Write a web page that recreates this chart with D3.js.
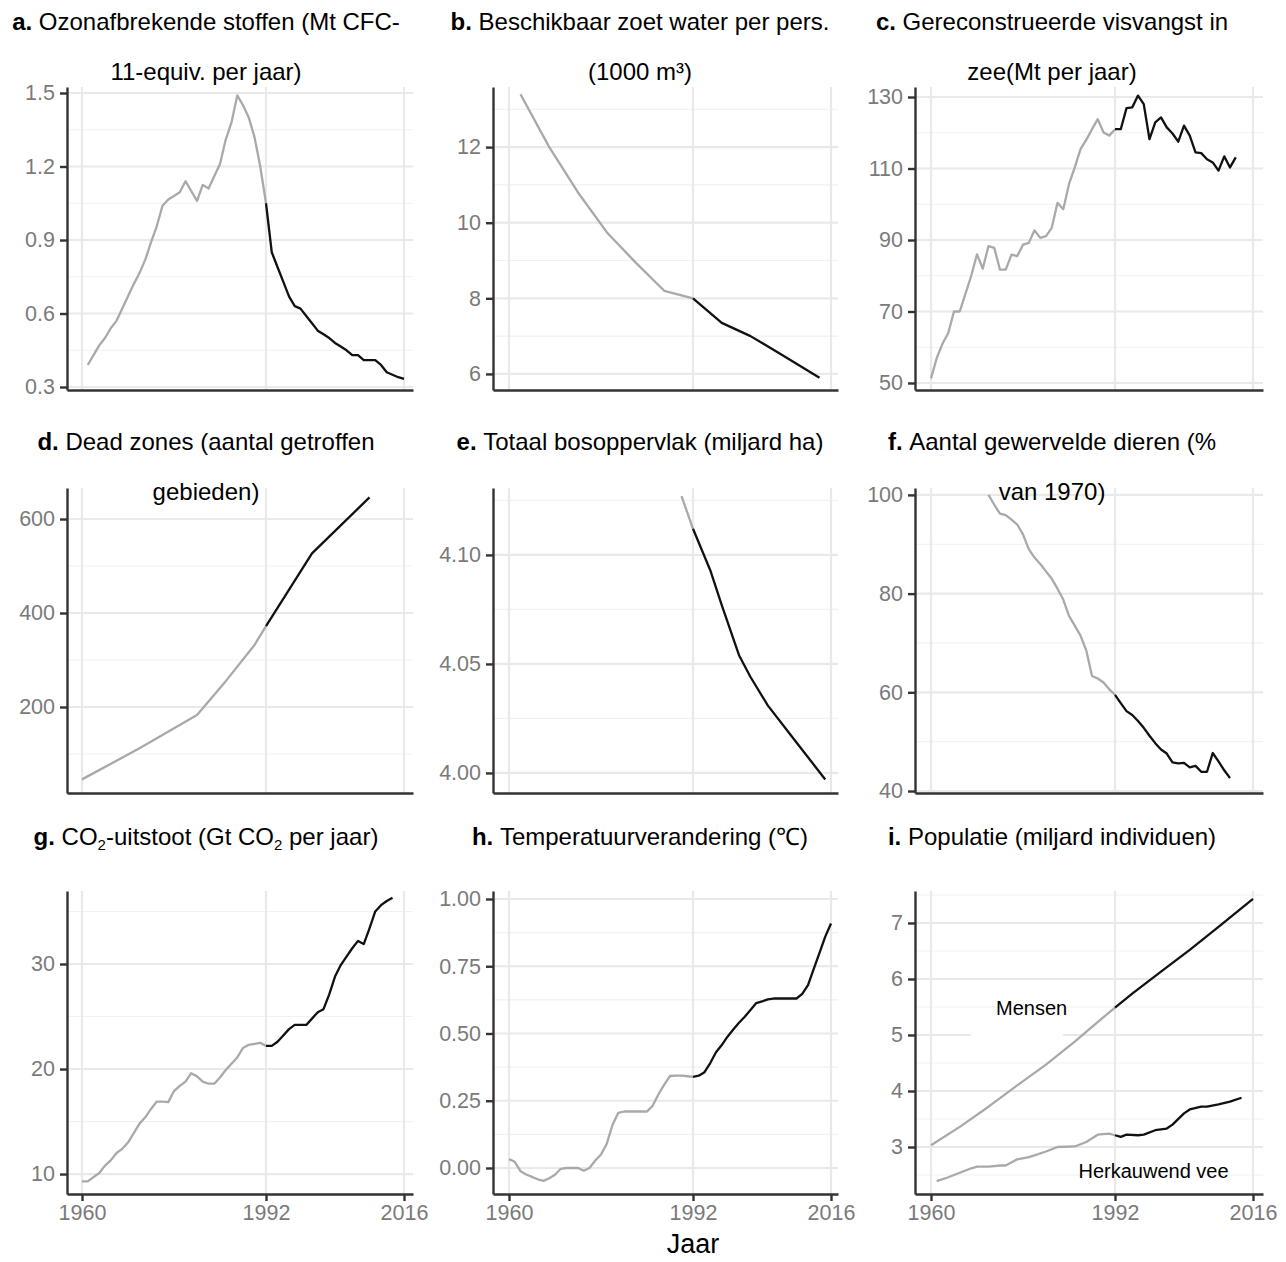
<!DOCTYPE html>
<html>
<head>
<meta charset="utf-8">
<script src="https://cdn.jsdelivr.net/npm/d3@7"></script>
<style>
  body { margin: 0; background: #fff; }
  text { font-family: "Liberation Sans", Arial, sans-serif; }
</style>
</head>
<body>
<div id="chart"></div>
<script>
// ---- data ----
// a. ozone depleting substances (Mt CFC-11-equiv. per year)
const ozoneYears = [1961,1962,1963,1964,1965,1966,1967,1968,1969,1970,1971,1972,1973,1974,1975,1976,1977,1978,1979,1980,1981,1982,1983,1984,1985,1986,1987,1988,1989,1990,1991,1992,1993,1994,1995,1996,1997,1998,1999,2000,2001,2002,2003,2004,2005,2006,2007,2008,2009,2010,2011,2012,2013,2014,2015,2016];
const ozoneValues = [0.39,0.43,0.47,0.50,0.54,0.57,0.62,0.67,0.72,0.765,0.82,0.89,0.956,1.04,1.065,1.08,1.095,1.14,1.10,1.06,1.125,1.11,1.16,1.21,1.31,1.38,1.49,1.45,1.40,1.32,1.20,1.05,0.85,0.79,0.73,0.67,0.63,0.62,0.59,0.56,0.53,0.515,0.50,0.48,0.465,0.45,0.43,0.43,0.41,0.41,0.41,0.39,0.36,0.35,0.34,0.333];

// b. fresh water per person (1000 m3)
const waterYears = [1962,1967,1972,1977,1982,1987,1992,1997,2002,2007,2014];
const waterValues = [13.4,12.0,10.8,9.75,8.95,8.2,8.0,7.35,7.0,6.55,5.9];

// c. reconstructed marine catch (Mt per year)
const fishYears = [1960,1961,1962,1963,1964,1965,1966,1967,1968,1969,1970,1971,1972,1973,1974,1975,1976,1977,1978,1979,1980,1981,1982,1983,1984,1985,1986,1987,1988,1989,1990,1991,1992,1993,1994,1995,1996,1997,1998,1999,2000,2001,2002,2003,2004,2005,2006,2007,2008,2009,2010,2011,2012,2013];
const fishValues = [51.3,57,61,64,70,70,75,80,86,82,88.3,87.8,81.7,81.7,85.9,85.5,88.7,89.2,92.7,90.6,91.1,93.4,100.4,98.6,105.6,110.3,115.4,118,121,123.8,120.1,119.2,121,121,126.9,127.1,130.4,128,118.2,122.9,124.3,121.5,119.8,117.5,122,119.2,114.5,114.3,112.6,111.7,109.4,113.4,110.3,113.1];

// d. dead zones (number of affected areas)
const deadYears = [1960,1970,1980,1985,1990,1992,2000,2010];
const deadValues = [46,112,183,255,332,372,527,646];

// e. total forest area (billion ha)
const forestYears = [1990,1992,1995,1997,2000,2002,2005,2010,2015];
const forestValues = [4.127,4.112,4.093,4.077,4.054,4.044,4.031,4.014,3.997];

// f. vertebrate abundance (% of 1970)
const vertYears = [1970,1971,1972,1973,1974,1975,1976,1977,1978,1979,1980,1981,1982,1983,1984,1985,1986,1987,1988,1989,1990,1991,1992,1993,1994,1995,1996,1997,1998,1999,2000,2001,2002,2003,2004,2005,2006,2007,2008,2009,2010,2011,2012];
const vertValues = [100,98,96.2,95.9,95,94,92,89,87.3,86,84.5,83,81,78.8,75.5,73.5,71.5,68.5,63.3,62.8,62,60.6,59.5,57.8,56.2,55.4,54.2,52.8,51.2,49.7,48.4,47.6,45.8,45.6,45.7,44.8,45.1,43.9,43.9,47.7,46,44.2,42.6];

// g. CO2 emissions (Gt CO2 per year)
const co2Years = [1960,1961,1962,1963,1964,1965,1966,1967,1968,1969,1970,1971,1972,1973,1974,1975,1976,1977,1978,1979,1980,1981,1982,1983,1984,1985,1986,1987,1988,1989,1990,1991,1992,1993,1994,1995,1996,1997,1998,1999,2000,2001,2002,2003,2004,2005,2006,2007,2008,2009,2010,2011,2012,2013,2014];
const co2Values = [9.3,9.3,9.7,10.1,10.8,11.3,12.0,12.4,13.0,13.9,14.8,15.4,16.2,16.9,16.9,16.85,17.9,18.4,18.8,19.6,19.3,18.8,18.6,18.6,19.2,19.9,20.5,21.1,22.0,22.3,22.4,22.5,22.2,22.2,22.6,23.2,23.8,24.2,24.2,24.2,24.8,25.4,25.7,27.1,28.8,29.9,30.7,31.5,32.2,31.9,33.4,35.0,35.6,36.0,36.3];

// h. temperature change (°C)
const tempYears = [1960,1961,1962,1963,1964,1965,1966,1967,1968,1969,1970,1971,1972,1973,1974,1975,1976,1977,1978,1979,1980,1981,1982,1983,1984,1985,1986,1987,1988,1989,1990,1991,1992,1993,1994,1995,1996,1997,1998,1999,2000,2001,2002,2003,2004,2005,2006,2007,2008,2009,2010,2011,2012,2013,2014,2015,2016];
const tempValues = [0.033,0.023,-0.012,-0.024,-0.033,-0.042,-0.048,-0.038,-0.025,-0.003,0,0,0,-0.01,0,0.028,0.05,0.09,0.16,0.205,0.21,0.21,0.21,0.21,0.21,0.232,0.274,0.31,0.342,0.343,0.343,0.341,0.339,0.343,0.356,0.39,0.43,0.457,0.488,0.515,0.54,0.562,0.587,0.613,0.619,0.627,0.63,0.63,0.63,0.63,0.63,0.647,0.68,0.74,0.8,0.86,0.909];

// i. population (billion individuals)
const humanYears = [1960,1965,1970,1975,1980,1985,1990,1992,1995,2000,2005,2010,2016];
const humanValues = [3.03,3.36,3.72,4.10,4.47,4.88,5.32,5.49,5.74,6.13,6.52,6.93,7.43];
const cattleYears = [1961,1963,1965,1967,1968,1970,1972,1973,1975,1977,1978,1980,1982,1985,1987,1989,1991,1992,1993,1994,1996,1997,1999,2001,2002,2004,2005,2007,2008,2010,2012,2014];
const cattleValues = [2.39,2.46,2.54,2.62,2.65,2.65,2.67,2.67,2.78,2.82,2.85,2.92,3.0,3.01,3.09,3.22,3.24,3.21,3.18,3.22,3.21,3.22,3.30,3.33,3.40,3.60,3.67,3.72,3.72,3.76,3.81,3.88];

// axis ticks
const xTicks = [1960, 1992, 2016];
const ozoneTicks = [0.3, 0.6, 0.9, 1.2, 1.5];
const waterTicks = [6, 8, 10, 12];
const fishTicks = [50, 70, 90, 110, 130];
const deadTicks = [200, 400, 600];
const forestTicks = [4.00, 4.05, 4.10];
const vertTicks = [40, 60, 80, 100];
const co2Ticks = [10, 20, 30];
const tempTicks = [0, 0.25, 0.5, 0.75, 1];
const popTicks = [3, 4, 5, 6, 7];
const splitYear = 1992;

// ---- layout ----
const width = 1286, height = 1262;
const grey = "#a9a9a9", black = "#111";

const svg = d3.select("#chart").append("svg")
    .attr("width", width)
    .attr("height", height);

const cols = [
    { axis: 67, x1960: 82, x2016: 404, right: 413, center: 206 },
    { axis: 493, x1960: 509, x2016: 831, right: 838, center: 640 },
    { axis: 915, x1960: 931, x2016: 1253, right: 1263, center: 1052 }
];
const rows = [
    { top: 87, bottom: 390, title: 30 },
    { top: 488, bottom: 793, title: 450 },
    { top: 891, bottom: 1194, title: 845 }
];

const panels = [
    { col: 0, row: 0, letter: "a.", title: [["Ozonafbrekende stoffen (Mt CFC-"], ["11-equiv. per jaar)"]],
      domain: [0.2878, 1.5245], ticks: ozoneTicks, fmt: d3.format(".1f"),
      series: [{ years: ozoneYears, values: ozoneValues }] },
    { col: 1, row: 0, letter: "b.", title: [["Beschikbaar zoet water per pers."], ["(1000 m³)"]],
      domain: [5.575, 13.59], ticks: waterTicks, fmt: d3.format("d"),
      series: [{ years: waterYears, values: waterValues }] },
    { col: 2, row: 0, letter: "c.", title: [["Gereconstrueerde visvangst in"], ["zee(Mt per jaar)"]],
      domain: [48.04, 132.8], ticks: fishTicks, fmt: d3.format("d"),
      series: [{ years: fishYears, values: fishValues }] },
    { col: 0, row: 1, letter: "d.", title: [["Dead zones (aantal getroffen"], ["gebieden)"]],
      domain: [17, 666], ticks: deadTicks, fmt: d3.format("d"),
      series: [{ years: deadYears, values: deadValues }] },
    { col: 1, row: 1, letter: "e.", title: [["Totaal bosoppervlak (miljard ha)"]],
      domain: [3.9908, 4.1307], ticks: forestTicks, fmt: d3.format(".2f"),
      series: [{ years: forestYears, values: forestValues }] },
    { col: 2, row: 1, letter: "f.", title: [["Aantal gewervelde dieren (%"], ["van 1970)"]],
      domain: [39.6, 101.4], ticks: vertTicks, fmt: d3.format("d"),
      series: [{ years: vertYears, values: vertValues }] },
    { col: 0, row: 2, letter: "g.", title: [["CO", "2", "-uitstoot (Gt CO", "2", " per jaar)"]],
      domain: [8.1, 36.95], ticks: co2Ticks, fmt: d3.format("d"),
      series: [{ years: co2Years, values: co2Values }] },
    { col: 1, row: 2, letter: "h.", title: [["Temperatuurverandering (℃)"]],
      domain: [-0.0967, 1.0297], ticks: tempTicks, fmt: d3.format(".2f"),
      series: [{ years: tempYears, values: tempValues }] },
    { col: 2, row: 2, letter: "i.", title: [["Populatie (miljard individuen)"]],
      domain: [2.161, 7.571], ticks: popTicks, fmt: d3.format("d"),
      series: [{ years: humanYears, values: humanValues }, { years: cattleYears, values: cattleValues }] }
];

panels.forEach(p => {
    const c = cols[p.col], r = rows[p.row];
    const x = d3.scaleLinear().domain([1960, 2016]).range([c.x1960, c.x2016]);
    const xFull = d3.scaleLinear().domain([x.invert(c.axis), x.invert(c.right)]).range([c.axis, c.right]);
    const y = d3.scaleLinear().domain(p.domain).range([r.bottom, r.top]);
    const g = svg.append("g");

    // minor gridlines halfway between ticks
    const step = p.ticks[1] - p.ticks[0];
    const minor = [];
    p.ticks.forEach(t => {
        [t - step / 2, t + step / 2].forEach(m => {
            if (m > p.domain[0] && m < p.domain[1] && !minor.some(v => Math.abs(v - m) < 1e-9)) minor.push(m);
        });
    });
    g.selectAll(".minor").data(minor).enter().append("line")
        .attr("x1", c.axis).attr("x2", c.right)
        .attr("y1", d => y(d)).attr("y2", d => y(d))
        .attr("stroke", "#f1f1f1").attr("stroke-width", 1.2);
    g.selectAll(".major").data(p.ticks).enter().append("line")
        .attr("x1", c.axis).attr("x2", c.right)
        .attr("y1", d => y(d)).attr("y2", d => y(d))
        .attr("stroke", "#e9e9e9").attr("stroke-width", 2.2);
    g.selectAll(".vgrid").data(xTicks).enter().append("line")
        .attr("x1", d => x(d)).attr("x2", d => x(d))
        .attr("y1", r.top).attr("y2", r.bottom)
        .attr("stroke", "#e9e9e9").attr("stroke-width", 2.2);

    // Mensen label clears part of the gridline in panel i
    if (p.letter === "i.") {
        g.append("rect").attr("x", x(1967)).attr("y", y(5.1))
            .attr("width", x(1983) - x(1967)).attr("height", y(4.9) - y(5.1))
            .attr("fill", "#fff");
    }

    // series: grey up to 1992, black from 1992
    const line = d3.line().x(d => x(d[0])).y(d => y(d[1]));
    p.series.forEach(s => {
        const pts = s.years.map((yr, i) => [yr, s.values[i]]);
        const before = pts.filter(d => d[0] <= splitYear);
        const after = pts.filter(d => d[0] >= splitYear);
        [[before, grey], [after, black]].forEach(([seg, col]) => {
            if (seg.length < 2) return;
            g.append("path").datum(seg)
                .attr("d", line)
                .attr("fill", "none")
                .attr("stroke", col)
                .attr("stroke-width", 2.3)
                .attr("stroke-linejoin", "round");
        });
    });

    // y axis
    const yAxis = g.append("g")
        .attr("transform", `translate(${c.axis},0)`)
        .call(d3.axisLeft(y).tickValues(p.ticks).tickFormat(p.fmt).tickSize(7).tickSizeOuter(0).tickPadding(5));
    // x axis
    const xAxis = g.append("g")
        .attr("transform", `translate(0,${r.bottom})`)
        .call(d3.axisBottom(xFull).tickValues(p.row === 2 ? xTicks : []).tickFormat(d3.format("d"))
            .tickSize(7).tickSizeOuter(0).tickPadding(4));
    [yAxis, xAxis].forEach(a => {
        a.select(".domain").attr("stroke", "#333").attr("stroke-width", 2.4);
        a.selectAll(".tick line").attr("stroke", "#333").attr("stroke-width", 2.4);
        a.selectAll(".tick text")
            .attr("fill", "#7a7a7a")
            .attr("font-size", "21.5px")
            .attr("font-family", "'Liberation Sans', Arial, sans-serif");
    });

    // panel labels inside i
    if (p.letter === "i.") {
        g.append("text").attr("x", x(1977.5)).attr("y", y(5.35))
            .attr("text-anchor", "middle").attr("font-size", "20px").text("Mensen");
        g.append("text").attr("x", x(1998.7)).attr("y", y(2.45))
            .attr("text-anchor", "middle").attr("font-size", "20px").text("Herkauwend vee");
    }

    // title (two lines, centred)
    p.title.forEach((parts, li) => {
        const t = svg.append("text")
            .attr("x", c.center)
            .attr("y", r.title + li * 50)
            .attr("text-anchor", "middle")
            .attr("font-size", "24px")
            .attr("fill", "#000");
        if (li === 0) {
            t.append("tspan").attr("font-weight", "bold").text(p.letter + " ");
        }
        parts.forEach((part, k) => {
            if (k % 2 === 1) {
                // subscript piece
                t.append("tspan").attr("font-size", "15px").attr("dy", 5).text(part);
            } else {
                t.append("tspan").attr("dy", k > 0 ? -5 : 0).text(part);
            }
        });
    });
});

// shared x-axis title
svg.append("text")
    .attr("x", 693)
    .attr("y", 1253)
    .attr("text-anchor", "middle")
    .attr("font-size", "27px")
    .attr("fill", "#000")
    .text("Jaar");
</script>
</body>
</html>
